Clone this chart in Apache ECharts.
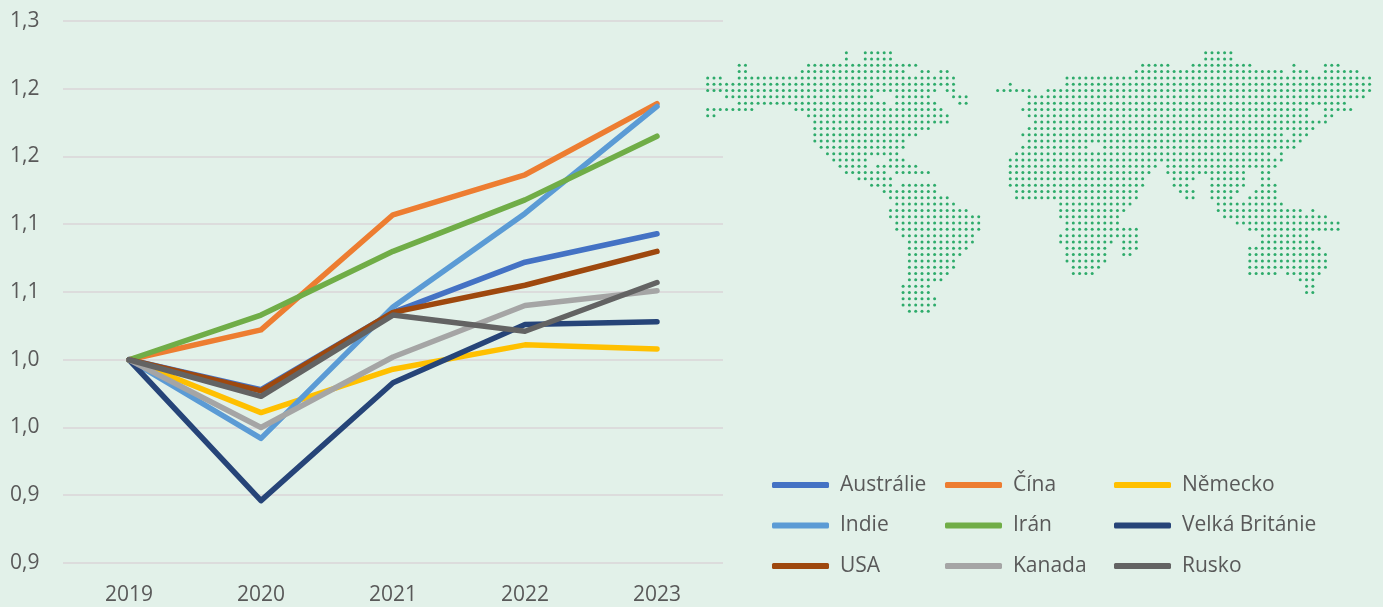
<!DOCTYPE html>
<html>
<head>
<meta charset="utf-8">
<style>
  html, body { margin: 0; padding: 0; background: #e2f1e9; }
  #chart { width: 1383px; height: 607px; }
</style>
<script src="https://cdn.jsdelivr.net/npm/echarts@6/dist/echarts.min.js"></script>
</head>
<body>
<div id="chart"></div>
<script>
var years = ["2019", "2020", "2021", "2022", "2023"];
var yTickLabels = ["0,9", "0,9", "1,0", "1,0", "1,1", "1,1", "1,2", "1,2", "1,3"];

var australie = [1, 0.978, 1.035, 1.072, 1.093];
var cina = [1, 1.022, 1.107, 1.1365, 1.189];
var nemecko = [1, 0.961, 0.993, 1.011, 1.008];
var indie = [1, 0.942, 1.039, 1.108, 1.187];
var iran = [1, 1.033, 1.08, 1.118, 1.165];
var britanie = [1, 0.896, 0.983, 1.026, 1.028];
var usa = [1, 0.977, 1.035, 1.055, 1.08];
var kanada = [1, 0.95, 1.002, 1.04, 1.051];
var rusko = [1, 0.973, 1.033, 1.021, 1.057];

// dotted world map, [first column, last column] runs for each row
var mapRows = [
  [[22, 22], [25, 29], [79, 83]],
  [[22, 22], [25, 29], [79, 83]],
  [[5, 6], [16, 33], [69, 73], [77, 86], [93, 93], [98, 100]],
  [[5, 6], [15, 31], [34, 35], [37, 38], [68, 91], [93, 95], [98, 103]],
  [[0, 2], [5, 39], [57, 105]],
  [[0, 39], [48, 48], [57, 105]],
  [[0, 36], [38, 39], [46, 51], [54, 105]],
  [[3, 26], [30, 35], [39, 41], [51, 104]],
  [[5, 28], [30, 36], [40, 41], [51, 101]],
  [[0, 7], [14, 37], [50, 95], [98, 102]],
  [[0, 1], [16, 38], [51, 95], [98, 99]],
  [[17, 38], [52, 98]],
  [[17, 35], [51, 96]],
  [[17, 33], [50, 91], [93, 95]],
  [[17, 31], [51, 94]],
  [[18, 31], [50, 60], [63, 93]],
  [[19, 30], [49, 89], [91, 91]],
  [[20, 25], [29, 31], [48, 91]],
  [[21, 25], [27, 33], [48, 71], [73, 90]],
  [[22, 28], [30, 35], [48, 70], [73, 85], [88, 89]],
  [[24, 29], [48, 69], [74, 77], [80, 85], [88, 89]],
  [[26, 29], [31, 36], [48, 69], [74, 76], [80, 85], [88, 90]],
  [[28, 36], [49, 68], [75, 77], [80, 84], [87, 90]],
  [[29, 38], [49, 68], [76, 77], [80, 83], [86, 90]],
  [[30, 39], [56, 67], [81, 91]],
  [[29, 41], [56, 66], [81, 94], [96, 96]],
  [[29, 43], [56, 65], [82, 98]],
  [[30, 43], [57, 65], [84, 100]],
  [[30, 43], [57, 68], [86, 100]],
  [[31, 42], [56, 68], [88, 95]],
  [[32, 42], [56, 64], [66, 68], [88, 96]],
  [[32, 41], [57, 63], [66, 68], [86, 97]],
  [[32, 40], [57, 63], [66, 67], [86, 98]],
  [[32, 39], [57, 63], [86, 98]],
  [[32, 39], [58, 62], [86, 98]],
  [[32, 38], [58, 61], [86, 90], [92, 97]],
  [[32, 37], [94, 96]],
  [[31, 35], [95, 96]],
  [[31, 35], [95, 96]],
  [[31, 36]],
  [[31, 36]],
  [[32, 35]]
];

var mapDots = [];
mapRows.forEach(function (runs, row) {
  runs.forEach(function (run) {
    for (var c = run[0]; c <= run[1]; c++) {
      mapDots.push([c, row]);
    }
  });
});

var textColor = "#595959";
var fontName = "Open Sans";

function lineSeries(name, values, color) {
  return {
    name: name,
    type: "line",
    data: values,
    showSymbol: false,
    symbol: "none",
    silent: true,
    itemStyle: { color: color },
    lineStyle: { color: color, width: 5.5, join: "round", cap: "round" }
  };
}

function legendColumn(names, left) {
  return {
    data: names,
    orient: "vertical",
    left: left,
    top: 471,
    padding: 0,
    itemGap: 12.5,
    itemWidth: 57,
    itemHeight: 6,
    icon: "roundRect",
    selectedMode: false,
    textStyle: {
      color: textColor,
      fontFamily: fontName,
      fontSize: 21,
      lineHeight: 27,
      padding: [1, 0, 0, 6]
    }
  };
}

var myChart = echarts.init(document.getElementById("chart"), null, { renderer: "canvas" });

var option = {
  backgroundColor: "#e2f1e9",
  animation: false,
  legend: [
    legendColumn(["Austrálie", "Indie", "USA"], 772),
    legendColumn(["Čína", "Irán", "Kanada"], 945),
    legendColumn(["Německo", "Velká Británie", "Rusko"], 1114)
  ],
  grid: [
    { left: 63, right: 660, top: 21, bottom: 44 },
    { left: 707.67, top: 52.67, width: 661.9, height: 258.7 }
  ],
  xAxis: [
    {
      type: "category",
      data: years,
      gridIndex: 0,
      axisLine: { show: false },
      axisTick: { show: false },
      axisLabel: { color: textColor, fontFamily: fontName, fontSize: 21, margin: 22 }
    },
    { type: "value", gridIndex: 1, min: 0, max: 105, show: false }
  ],
  yAxis: [
    {
      type: "value",
      gridIndex: 0,
      min: 0.85,
      max: 1.25,
      interval: 0.05,
      axisLine: { show: false },
      axisTick: { show: false },
      splitLine: { lineStyle: { color: "#dcdcdc", width: 2 } },
      axisLabel: {
        color: textColor,
        fontFamily: fontName,
        fontSize: 21,
        align: "left",
        margin: 53,
        formatter: function (value, index) {
          return yTickLabels[index];
        }
      }
    },
    { type: "value", gridIndex: 1, min: 0, max: 41, inverse: true, show: false }
  ],
  series: [
    {
      type: "scatter",
      xAxisIndex: 1,
      yAxisIndex: 1,
      data: mapDots,
      symbol: "circle",
      symbolSize: 3,
      silent: true,
      progressive: 0,
      itemStyle: { color: "#009a4b" }
    },
    lineSeries("Austrálie", australie, "#4472c4"),
    lineSeries("Čína", cina, "#ed7d31"),
    lineSeries("Německo", nemecko, "#ffc000"),
    lineSeries("Indie", indie, "#5b9bd5"),
    lineSeries("Irán", iran, "#70ad47"),
    lineSeries("Velká Británie", britanie, "#264478"),
    lineSeries("USA", usa, "#9e480e"),
    lineSeries("Kanada", kanada, "#a5a5a5"),
    lineSeries("Rusko", rusko, "#636363")
  ]
};

myChart.setOption(option);
window.addEventListener("resize", myChart.resize);
</script>
</body>
</html>
